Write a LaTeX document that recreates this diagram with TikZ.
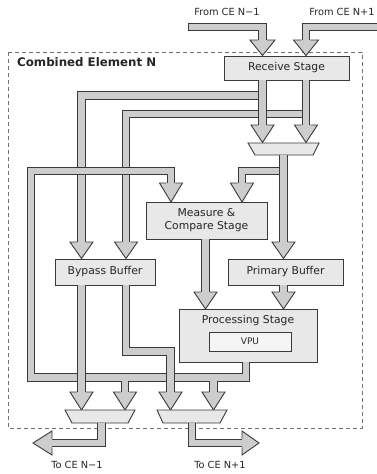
\documentclass[tikz,border=0pt]{standalone}
\usepackage{fontspec}
\setmainfont{DejaVu Sans}
\definecolor{edge}{HTML}{3A3A3A}
\definecolor{pipec}{HTML}{CDCDCD}
\definecolor{boxc}{HTML}{E8E8E8}
\definecolor{vpuc}{HTML}{F5F5F5}
\definecolor{framec}{HTML}{707070}
\definecolor{txt}{HTML}{262626}
\newcommand\pipe[1]{\draw[pipeo] #1; \draw[pipei] #1;}
\newcommand\dhead[4]{\filldraw[headst] (#1-4.3,#2) -- (#1-#4,#2) -- (#1,#3) -- (#1+#4,#2) -- (#1+4.3,#2);}
\newcommand\hhead[3]{\filldraw[headst] (#1,#3-4.3) -- (#1,#3-12) -- (#2,#3) -- (#1,#3+12) -- (#1,#3+4.3);}
\begin{document}
\begin{tikzpicture}[x=1pt,y=-1pt,
  pipeo/.style={line width=8.6pt,draw=edge,line join=miter},
  pipei/.style={line width=6.8pt,draw=pipec,line join=miter},
  headst/.style={fill=pipec,draw=edge,line width=0.9pt,line join=miter},
  blk/.style={draw=edge,fill=boxc,line width=0.9pt,inner sep=0pt,text=txt,font=\fontsize{10.8}{13}\selectfont},
  muxst/.style={draw=edge,fill=boxc,line width=0.9pt,line join=miter},
  lbl/.style={inner sep=0pt,font=\fontsize{9.8}{11}\selectfont,text=txt}]
\useasboundingbox (0,0) rectangle (377,474);
\fill[white] (0,0) rectangle (377,474);
% frame
\draw[framec,line width=0.8pt,dash pattern=on 4pt off 3pt] (8,52) rectangle (362,428);
\node[anchor=west,inner sep=0pt,text=txt,font=\fontsize{11.8}{13}\selectfont\bfseries] (title) at (17,62.5) {Combined Element N};
% boxes
\node[blk,minimum width=125pt,minimum height=24pt] (recv) at (286.5,68) {Receive Stage};
\node[blk,minimum width=121pt,minimum height=37pt,align=center] (meas) at (206.5,220.5) {Measure \&\\Compare Stage};
\node[blk,minimum width=100pt,minimum height=26pt] (byp) at (105,272) {Bypass Buffer};
\node[blk,minimum width=115pt,minimum height=26pt] (prim) at (285.5,272) {Primary Buffer};
\node[blk,minimum width=138pt,minimum height=53pt] (proc) at (248,335.5) {};
\node[inner sep=0pt,text=txt,font=\fontsize{10.8}{13}\selectfont] (proct) at (248,321) {Processing Stage};
\node[blk,fill=vpuc,minimum width=82pt,minimum height=19pt,font=\fontsize{9}{10}\selectfont] (vpu) at (250,341.5) {VPU};
% labels
\node[lbl] (fl) at (227,12) {From CE N−1};
\node[lbl] (fr) at (342,12) {From CE N+1};
\node[lbl] (tl) at (77,465) {To CE N−1};
\node[lbl] (tr) at (220,465) {To CE N+1};
% inputs
\pipe{(188,27) -- (262.5,27) -- (262.5,40)}
\draw[edge,line width=0.9pt] (188,22.7) -- (188,31.3);
\dhead{262.5}{40}{55.5}{12.5}
\pipe{(385,27) -- (306,27) -- (306,40)}
\dhead{306}{40}{55.5}{12.5}
% branches from receive
\pipe{(262.5,95.5) -- (81.5,95.5) -- (81.5,242)}
\dhead{81.5}{242}{258.5}{11.5}
\pipe{(306,114) -- (126,114) -- (126,242)}
\dhead{126}{242}{258.5}{11.5}
\pipe{(262.5,80) -- (262.5,125)}
\dhead{262.5}{125}{142.5}{11.5}
\pipe{(306,80) -- (306,125)}
\dhead{306}{125}{142.5}{11.5}
% mux 1
\filldraw[muxst] (248,143) -- (319,143) -- (313,155) -- (255,155) -- cycle;
% bus drops (before loop)
\draw[pipeo] (125,381.8) -- (125,392);
\draw[pipeo] (213.5,381.8) -- (213.5,392);
% loop
\pipe{(246,362) -- (246,377.5) -- (31,377.5) -- (31,171) -- (171,171) -- (171,183)}
\dhead{171}{183}{202}{11.5}
\draw[pipei] (125,377.5) -- (125,392);
\draw[pipei] (213.5,377.5) -- (213.5,392);
% mux1 output
\pipe{(283.5,171) -- (242,171) -- (242,183)}
\dhead{242}{183}{202}{11.5}
\pipe{(283.5,155) -- (283.5,242)}
\dhead{283.5}{242}{258.5}{11.5}
% measure and primary out
\pipe{(205.5,239) -- (205.5,292)}
\dhead{205.5}{292}{309}{11.5}
\pipe{(283.5,285) -- (283.5,292)}
\dhead{283.5}{292}{309}{11.5}
% bypass outputs
\pipe{(81.5,285) -- (81.5,392)}
\pipe{(126,285) -- (126,351.5) -- (170.5,351.5) -- (170.5,392)}
\dhead{81.5}{392}{410}{11.5}
\dhead{125}{392}{410}{11.5}
\dhead{170.5}{392}{410}{11.5}
\dhead{213.5}{392}{410}{11.5}
% output muxes
\filldraw[muxst] (65,410) -- (135,410) -- (128,423) -- (72,423) -- cycle;
\filldraw[muxst] (157,410) -- (227,410) -- (220,423) -- (163,423) -- cycle;
\pipe{(101.5,423) -- (101.5,443) -- (52,443)}
\hhead{52}{33}{443}
\pipe{(192,423) -- (192,443) -- (242,443)}
\hhead{242}{259}{443}
\end{tikzpicture}
\end{document}
